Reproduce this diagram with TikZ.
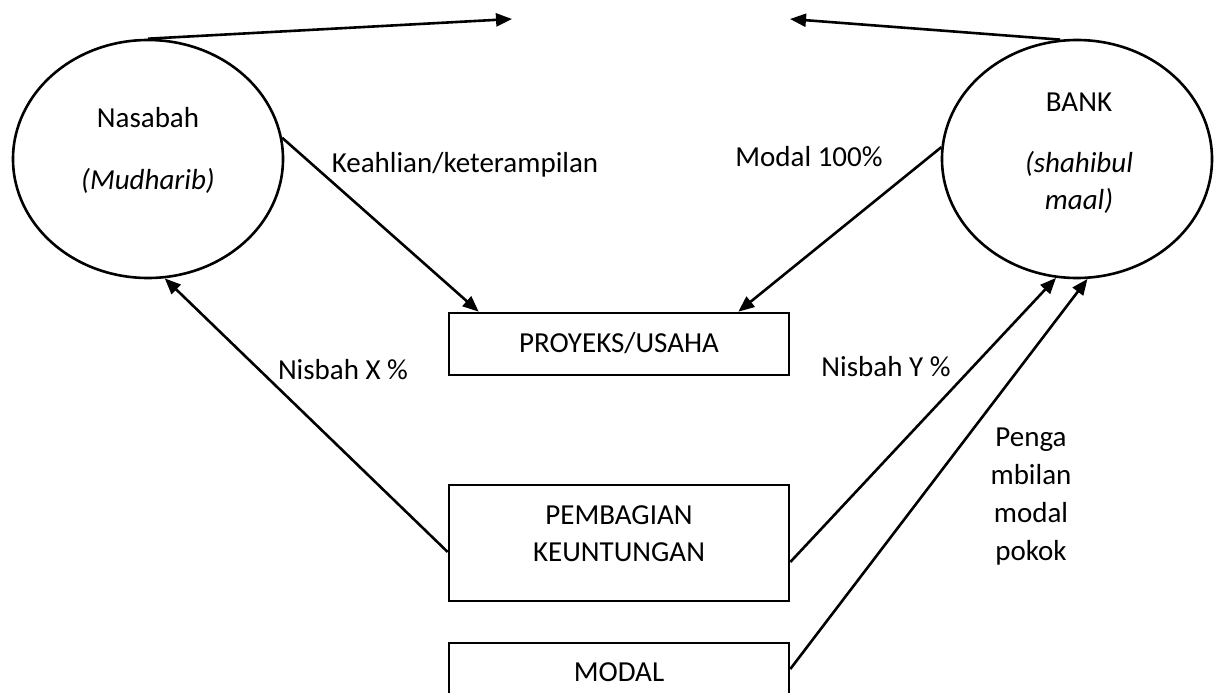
\documentclass[tikz,border=0pt]{standalone}
\usepackage{fontspec}
\setmainfont{Carlito}
\usetikzlibrary{arrows.meta,shapes.geometric,calc}
\begin{document}
\begin{tikzpicture}[x=1pt,y=-1pt,
  every node/.style={font=\fontsize{29}{37.5}\selectfont},
  lw/.style={line width=2.6pt},
  party/.style={draw,ellipse,lw,minimum width=270pt,minimum height=238pt,inner sep=0pt},
  box/.style={draw,rectangle,lw,minimum width=340pt,inner sep=0pt},
  txt/.style={inner sep=0pt,anchor=base},
  flow/.style={lw,-{Triangle[length=16pt,width=13pt]}}]
\useasboundingbox (0,0) rectangle (1224,693);
\clip (0,0) rectangle (1224,693);
% parties
\node[party] (nas) at (148,159) {};
\node[party] (bank) at (1077,159) {};
% boxes
\node[box,minimum height=62pt] (proj) at (619,344) {};
\node[box,minimum height=116pt] (bagi) at (619,543) {};
\node[box,minimum height=62pt] (modal) at (619,674) {};
% texts inside shapes
\node[txt] (tnas) at (148,128) {Nasabah};
\node[txt] (tmud) at (148,189) {\itshape (Mudharib)};
\node[txt] (tbank) at (1079,111) {BANK};
\node[txt] (tsha) at (1079,172) {\itshape (shahibul};
\node[txt] (tmaal) at (1079,209) {\itshape maal)};
\node[txt] (tproj) at (619,352) {PROYEKS/USAHA};
\node[txt] (tbagi1) at (619,524) {PEMBAGIAN};
\node[txt] (tbagi2) at (619,561) {KEUNTUNGAN};
\node[txt] (tmodal) at (619,681) {MODAL};
% connector labels
\node[txt] (lkeah) at (465,172) {Keahlian/keterampilan};
\node[txt] (lmod) at (809,166) {Modal 100\%};
\node[txt] (lnx) at (343,379) {Nisbah X \%};
\node[txt] (lny) at (886,376) {Nisbah Y \%};
\node[txt] (lp1) at (1031,446) {Penga};
\node[txt] (lp2) at (1031,484) {mbilan};
\node[txt] (lp3) at (1031,522) {modal};
\node[txt] (lp4) at (1031,560) {pokok};
% free ends
\coordinate (topL) at (512,19);
\coordinate (topR) at (790,19);
% connectors
\draw[flow] (nas.north) -- (topL);
\draw[flow] (bank.98) -- (topR);
\draw[flow] (nas.9) -- ($(proj.north west)+(31,0)$);
\draw[flow] (bank.175) -- ($(proj.north east)+(-52,0)$);
\draw[flow] ($(bagi.west)+(0,9)$) -- (nas.-82);
\draw[flow] ($(bagi.east)+(0,19)$) -- (bank.260.5);
\draw[flow] ($(modal.east)+(0,-5)$) -- (bank.-85);
\end{tikzpicture}
\end{document}
